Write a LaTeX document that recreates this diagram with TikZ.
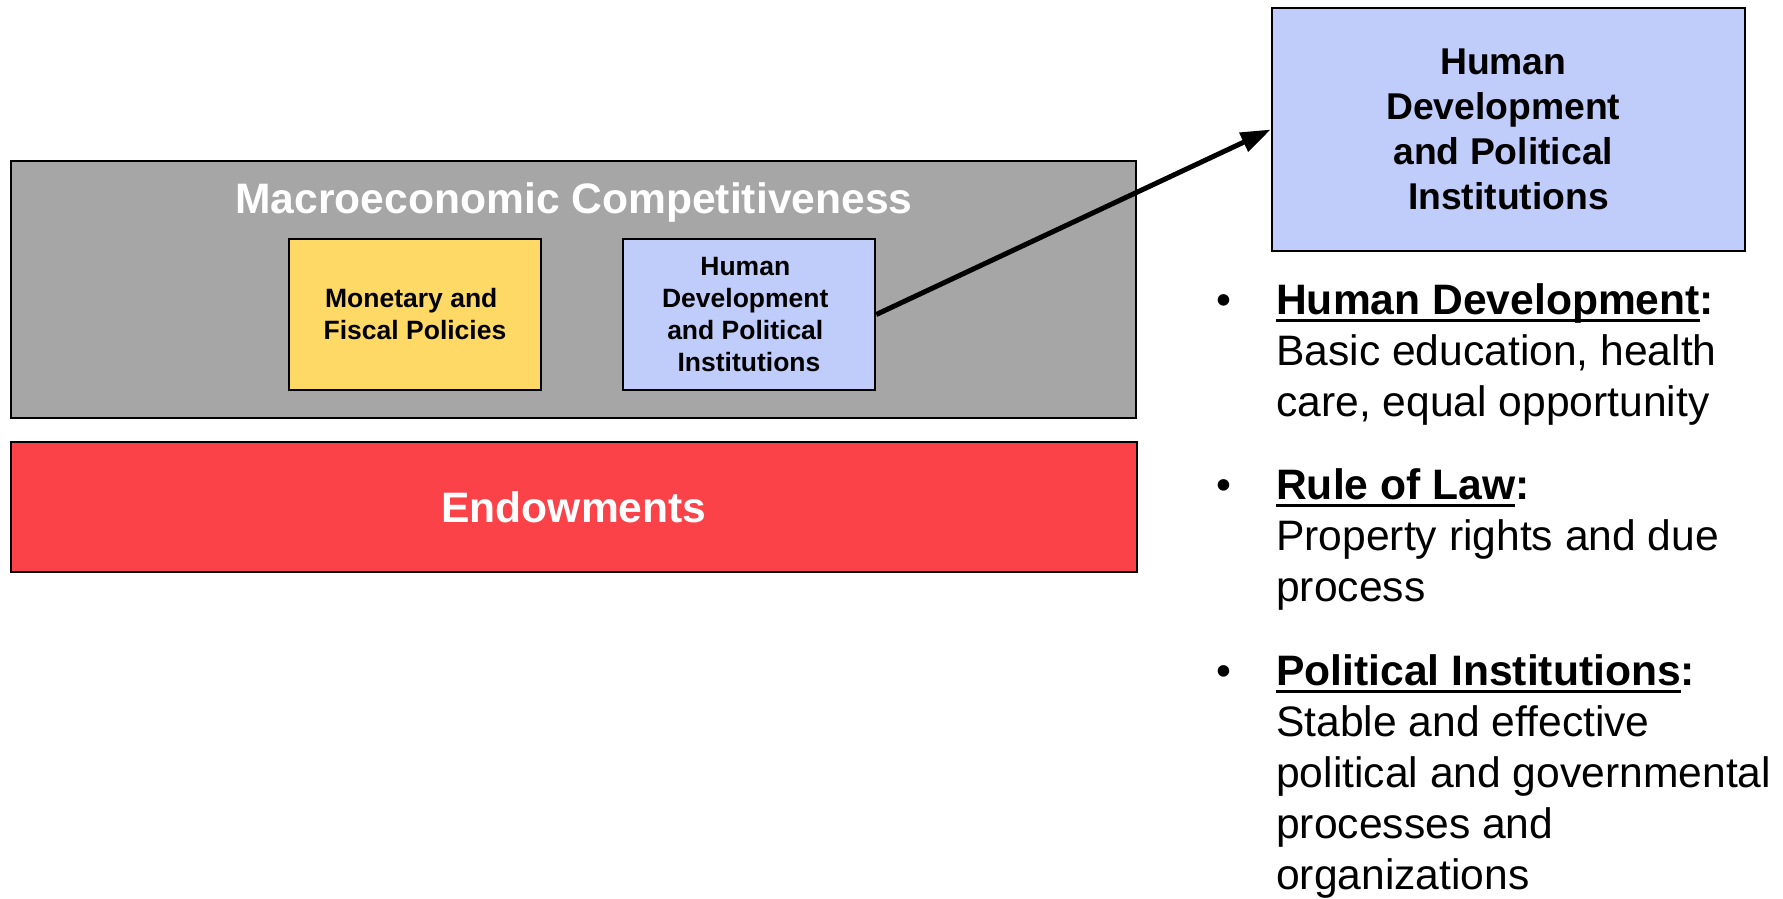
\documentclass[tikz,border=0pt]{standalone}
\usepackage{fontspec}
\setmainfont{Liberation Sans}
\usetikzlibrary{arrows.meta,positioning}

\definecolor{macrogray}{RGB}{166,166,166}
\definecolor{policyyellow}{RGB}{255,217,102}
\definecolor{instblue}{RGB}{192,204,250}
\definecolor{endowred}{RGB}{251,66,72}

\newsavebox{\ulbox}
\newcommand{\ulhead}[1]{\sbox{\ulbox}{#1}\rlap{\rule[-0.19em]{\wd\ulbox}{0.07em}}\usebox{\ulbox}}

\begin{document}
\begin{tikzpicture}[x=1pt,y=-1pt]
	\tikzstyle{every node}=[inner sep=0pt]
	\tikzstyle{box}=[draw=black, line width=2.5pt, align=center]
	\tikzstyle{smallbox}=[box, minimum width=252pt, minimum height=151pt, font=\bfseries\fontsize{26.5}{32}\selectfont]
	\tikzstyle{bigtext}=[text=white, font=\bfseries\fontsize{42.6}{50}\selectfont]
	\tikzstyle{item}=[anchor=north west, align=left, font=\fontsize{42.6}{51}\selectfont]

	\useasboundingbox (0,0) rectangle (1783,898);

	%% macro level
	\node [box, fill=macrogray, minimum width=1125pt, minimum height=257pt]  (macro)  at (573.5,289.5)  {};
	\node [bigtext, anchor=base]  (mctitle)  at (574,213)  {Macroeconomic Competitiveness};
	\node [smallbox, fill=policyyellow]  (monfis)  at (415,314.5)  {Monetary and\kern.28em\\Fiscal Policies};
	\node [smallbox, fill=instblue]  (hdsmall)  at (749,314.5)  {Human\kern.28em\\Development\kern.28em\\and Political\kern.28em\\Institutions};

	%% endowments
	\node [box, bigtext, fill=endowred, minimum width=1126pt, minimum height=130pt]  (endow)  at (574,507)  {Endowments};

	%% zoomed box
	\node [box, fill=instblue, minimum width=473pt, minimum height=243pt, font=\bfseries\fontsize{37.3}{45}\selectfont]  (hdbig)  at (1508.5,129.5)  {Human\kern.28em\\Development\kern.28em\\and Political\kern.28em\\Institutions};
	\draw [-{Triangle[length=30pt,width=20pt]}, line width=5pt]  (hdsmall.east) -- (hdbig.west);

	%% bullets
	\node [item]  (item1)  at (1276,283)  {\llap{\textbullet\hspace{45pt}}\textbf{\ulhead{Human Development}:}\\Basic education, health\\care, equal opportunity};
	\node [item, below=43pt of item1.south west, anchor=north west]  (item2)  {\llap{\textbullet\hspace{45pt}}\textbf{\ulhead{Rule of Law}:}\\Property rights and due\\process};
	\node [item, below=44pt of item2.south west, anchor=north west]  (item3)  {\llap{\textbullet\hspace{45pt}}\textbf{\ulhead{Political Institutions}:}\\Stable and effective\\political and governmental\\processes and\\organizations};

\end{tikzpicture}
\end{document}
